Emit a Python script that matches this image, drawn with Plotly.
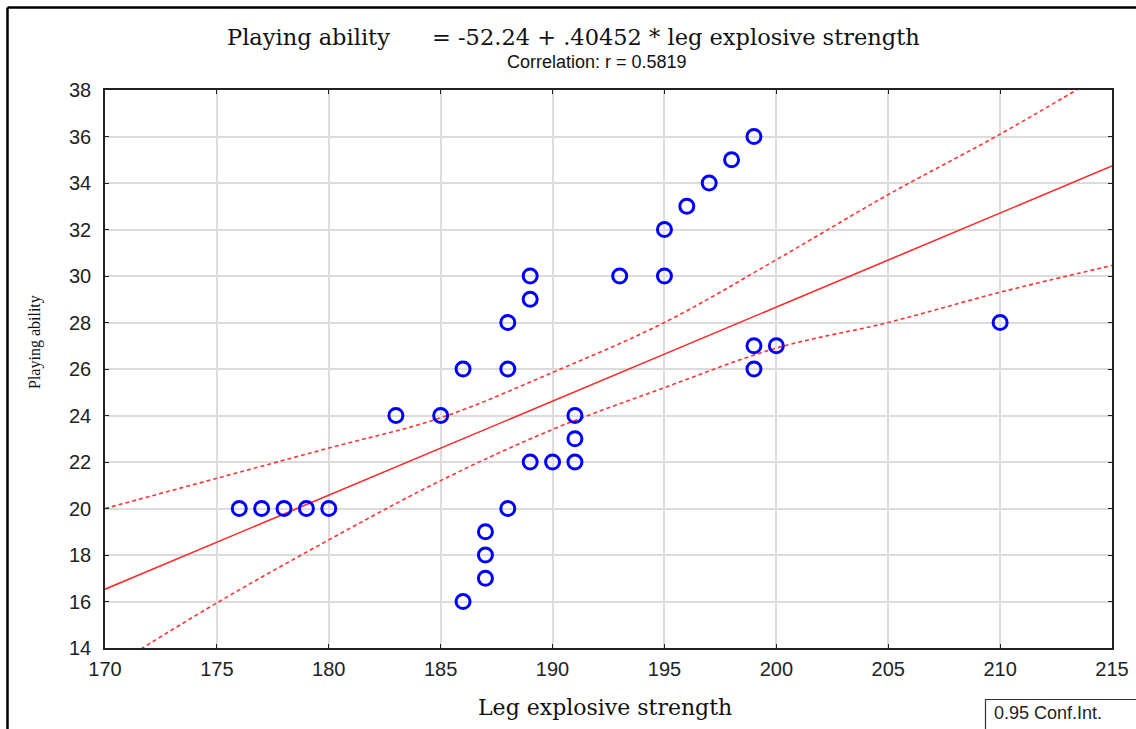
import plotly.graph_objects as go

# ---- data ----
leg_strength = [176, 177, 178, 179, 180, 183, 185, 186, 186, 187, 187, 187,
                188, 188, 188, 189, 189, 189, 190, 191, 191, 191, 193, 195,
                195, 196, 197, 198, 199, 199, 199, 200, 210]
playing_ability = [20, 20, 20, 20, 20, 24, 24, 26, 16, 19, 18, 17,
                   28, 26, 20, 30, 29, 22, 22, 24, 23, 22, 30, 32,
                   30, 33, 34, 35, 36, 27, 26, 27, 28]

# regression coefficients (from the chart heading)
intercept = -52.24
slope = 0.40452
r_value = 0.5819

# 0.95 confidence band
band_x = [170, 175, 180, 185, 190, 195, 200, 205, 210, 215]
band_upper = [20.0, 21.3, 22.6, 23.9, 25.85, 28.0, 30.7, 33.5, 36.1, 38.9]
band_lower = [13.0, 15.94, 18.65, 21.2, 23.4, 25.2, 26.9, 28.0, 29.3, 30.45]

x_ticks = [170, 175, 180, 185, 190, 195, 200, 205, 210, 215]
y_ticks = [14, 16, 18, 20, 22, 24, 26, 28, 30, 32, 34, 36, 38]

W, H = 1136, 729
ML, MR, MT, MB = 105, 24, 90, 81
PW, PH = W - ML - MR, H - MT - MB

def px(xp):
    return (xp - ML) / PW

def py(yp):
    return (H - MB - yp) / PH

fit_x = [x_ticks[0], x_ticks[-1]]
fit_y = [intercept + slope * v for v in fit_x]

fig = go.Figure()
fig.add_trace(go.Scatter(x=band_x, y=band_upper, mode="lines",
                         line=dict(color="#ff3333", width=1.6, dash="4px,3px", shape="spline"),
                         hoverinfo="skip"))
fig.add_trace(go.Scatter(x=band_x, y=band_lower, mode="lines",
                         line=dict(color="#ff3333", width=1.6, dash="4px,3px", shape="spline"),
                         hoverinfo="skip"))
fig.add_trace(go.Scatter(x=fit_x, y=fit_y, mode="lines",
                         line=dict(color="#ff2a2a", width=1.6)))
fig.add_trace(go.Scatter(x=leg_strength, y=playing_ability, mode="markers",
                         marker=dict(symbol="circle-open", size=14, color="#0000ff",
                                     line=dict(color="#0000ff", width=3)),
                         cliponaxis=False))

axis_common = dict(showgrid=True, gridcolor="#dcdcdc", gridwidth=1.5,
                   showline=True, linecolor="#222222", linewidth=1.5, mirror="ticks",
                   ticks="inside", ticklen=4, tickcolor="#222222", zeroline=False,
                   automargin=False,
                   tickfont=dict(family="Liberation Sans, Arial", size=20, color="#222222"))

fig.update_xaxes(range=[170, 215], tickvals=x_ticks, ticktext=[str(v) for v in x_ticks],
                 ticklabelstandoff=2, **axis_common)
fig.update_yaxes(range=[14, 38], tickvals=y_ticks, ticktext=[str(v) for v in y_ticks],
                 ticklabelstandoff=8, **axis_common)

annotations = [
    dict(text="Playing ability", x=px(225), y=py(37), xanchor="left", yanchor="middle",
         font=dict(family="DejaVu Serif", size=22.5, color="#111111")),
    dict(text="= -52.24 + .40452 * leg explosive strength", x=px(430), y=py(37),
         xanchor="left", yanchor="middle",
         font=dict(family="DejaVu Serif", size=22.5, color="#111111")),
    dict(text="Correlation: r = %.4f" % r_value, x=px(597), y=py(62), xanchor="center",
         yanchor="middle", font=dict(family="Liberation Sans, Arial", size=18, color="#111111")),
    dict(text="Leg explosive strength", x=px(605), y=py(707), xanchor="center",
         yanchor="middle", font=dict(family="DejaVu Serif", size=22, color="#111111")),
    dict(text="Playing ability", x=px(35), y=py(342), xanchor="center", yanchor="middle",
         textangle=-90, font=dict(family="Liberation Serif", size=16, color="#111111")),
    dict(text="0.95 Conf.Int.", x=px(992), y=py(713), xanchor="left", yanchor="middle",
         font=dict(family="Liberation Sans, Arial", size=18, color="#222222")),
]
for a in annotations:
    a.update(xref="paper", yref="paper", showarrow=False)

shapes = [
    # outer frame (left and top)
    dict(type="line", xref="paper", yref="paper", x0=px(7.5), x1=px(7.5), y0=py(7.5), y1=py(740),
         line=dict(color="black", width=2.5)),
    dict(type="line", xref="paper", yref="paper", x0=px(7.5), x1=px(1150), y0=py(7.5), y1=py(7.5),
         line=dict(color="black", width=2.5)),
    # legend box
    dict(type="rect", xref="paper", yref="paper", x0=px(985.5), x1=px(1150), y0=py(699.5), y1=py(740),
         line=dict(color="#333333", width=1.2), fillcolor="white"),
]

fig.update_layout(width=W, height=H, margin=dict(l=ML, r=MR, t=MT, b=MB),
                  paper_bgcolor="white", plot_bgcolor="white", showlegend=False,
                  annotations=annotations, shapes=shapes)

fig.write_html("out.html")
